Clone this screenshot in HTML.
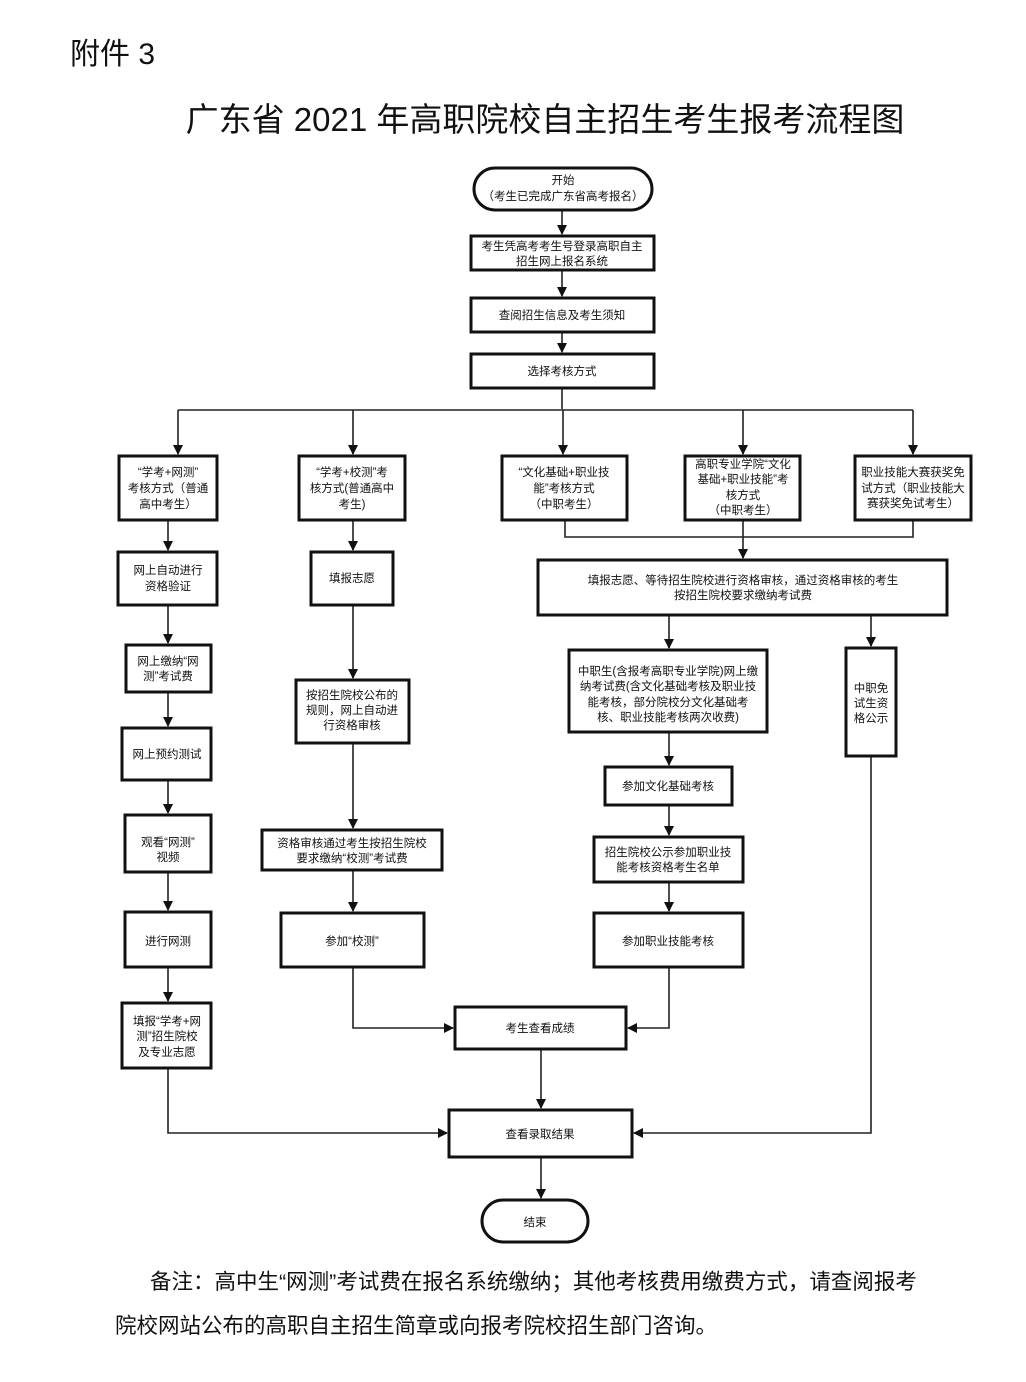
<!DOCTYPE html>
<html><head><meta charset="utf-8">
<style>
html,body{margin:0;padding:0;background:#fff;}
svg{display:block;}
text{font-family:"Liberation Sans","Noto Sans CJK SC",sans-serif;fill:#111;}
.b{fill:#fff;stroke:#111;stroke-width:3;}
.l{fill:none;stroke:#222;stroke-width:1.6;}
.t{font-size:11.5px;text-anchor:middle;}
</style></head><body>
<svg width="1026" height="1382" viewBox="0 0 1026 1382" xmlns="http://www.w3.org/2000/svg">
<defs><marker id="a" markerWidth="10" markerHeight="10" refX="9" refY="5" orient="auto" markerUnits="userSpaceOnUse"><path d="M0,0 L10,5 L0,10 z" fill="#111"/></marker></defs>
<text x="70" y="64" font-size="30">附件 3</text>
<text x="545" y="131" font-size="33" text-anchor="middle">广东省 2021 年高职院校自主招生考生报考流程图</text>

<!-- connectors -->
<g class="l">
<path d="M562 210 V234" marker-end="url(#a)"/>
<path d="M562 270 V296" marker-end="url(#a)"/>
<path d="M562 332 V352" marker-end="url(#a)"/>
<path d="M562 388 V409"/>
<path d="M178 410 H913"/>
<path d="M178 410 V454" marker-end="url(#a)"/>
<path d="M353 410 V454" marker-end="url(#a)"/>
<path d="M563 410 V454" marker-end="url(#a)"/>
<path d="M743 410 V454" marker-end="url(#a)"/>
<path d="M913 410 V454" marker-end="url(#a)"/>
<path d="M565 520 V537 H913 V520"/>
<path d="M743 520 V558" marker-end="url(#a)"/>
<path d="M669 615 V648" marker-end="url(#a)"/>
<path d="M871 615 V646" marker-end="url(#a)"/>
<path d="M669 732 V765" marker-end="url(#a)"/>
<path d="M669 805 V835" marker-end="url(#a)"/>
<path d="M669 882 V911" marker-end="url(#a)"/>
<path d="M168 520 V550" marker-end="url(#a)"/>
<path d="M168 605 V643" marker-end="url(#a)"/>
<path d="M168 692 V726" marker-end="url(#a)"/>
<path d="M168 780 V813" marker-end="url(#a)"/>
<path d="M168 872 V910" marker-end="url(#a)"/>
<path d="M168 967 V1001" marker-end="url(#a)"/>
<path d="M353 520 V550" marker-end="url(#a)"/>
<path d="M353 605 V678" marker-end="url(#a)"/>
<path d="M353 743 V828" marker-end="url(#a)"/>
<path d="M353 870 V911" marker-end="url(#a)"/>
<path d="M353 967 V1028 H453" marker-end="url(#a)"/>
<path d="M669 967 V1028 H628" marker-end="url(#a)"/>
<path d="M541 1049 V1108" marker-end="url(#a)"/>
<path d="M168 1068 V1133 H447" marker-end="url(#a)"/>
<path d="M871 756 V1133 H634" marker-end="url(#a)"/>
<path d="M541 1157 V1198" marker-end="url(#a)"/>
</g>

<!-- boxes -->
<rect class="b" x="474" y="168" width="178" height="42" rx="21"/>
<text class="t" x="563" y="184">开始</text>
<text class="t" x="563" y="200">（考生已完成广东省高考报名）</text>

<rect class="b" x="471" y="236" width="183" height="34"/>
<text class="t" x="562" y="250">考生凭高考考生号登录高职自主</text>
<text class="t" x="562" y="265">招生网上报名系统</text>

<rect class="b" x="471" y="298" width="183" height="34"/>
<text class="t" x="562" y="319">查阅招生信息及考生须知</text>

<rect class="b" x="471" y="354" width="183" height="34"/>
<text class="t" x="562" y="375">选择考核方式</text>

<rect class="b" x="119" y="456" width="98" height="64"/>
<text class="t" x="168" y="476">“学考+网测”</text>
<text class="t" x="168" y="492">考核方式（普通</text>
<text class="t" x="168" y="508">高中考生）</text>

<rect class="b" x="299" y="456" width="106" height="64"/>
<text class="t" x="352" y="476">“学考+校测”考</text>
<text class="t" x="352" y="492">核方式(普通高中</text>
<text class="t" x="352" y="508">考生)</text>

<rect class="b" x="502" y="456" width="125" height="64"/>
<text class="t" x="564" y="476">“文化基础+职业技</text>
<text class="t" x="564" y="492">能”考核方式</text>
<text class="t" x="564" y="508">（中职考生）</text>

<rect class="b" x="685" y="456" width="115" height="64"/>
<text class="t" x="743" y="468">高职专业学院“文化</text>
<text class="t" x="743" y="483">基础+职业技能”考</text>
<text class="t" x="743" y="499">核方式</text>
<text class="t" x="743" y="514">（中职考生）</text>

<rect class="b" x="855" y="456" width="116" height="64"/>
<text class="t" x="913" y="476">职业技能大赛获奖免</text>
<text class="t" x="913" y="492">试方式（职业技能大</text>
<text class="t" x="913" y="507">赛获奖免试考生）</text>

<rect class="b" x="538" y="560" width="409" height="55"/>
<text class="t" x="743" y="584">填报志愿、等待招生院校进行资格审核，通过资格审核的考生</text>
<text class="t" x="743" y="599">按招生院校要求缴纳考试费</text>

<rect class="b" x="569" y="650" width="198" height="82"/>
<text class="t" x="668" y="675">中职生(含报考高职专业学院)网上缴</text>
<text class="t" x="668" y="690">纳考试费(含文化基础考核及职业技</text>
<text class="t" x="668" y="706">能考核，部分院校分文化基础考</text>
<text class="t" x="668" y="721">核、职业技能考核两次收费)</text>

<rect class="b" x="846" y="648" width="50" height="108"/>
<text class="t" x="871" y="692">中职免</text>
<text class="t" x="871" y="707">试生资</text>
<text class="t" x="871" y="722">格公示</text>

<rect class="b" x="605" y="767" width="127" height="38"/>
<text class="t" x="668" y="790">参加文化基础考核</text>

<rect class="b" x="594" y="837" width="149" height="45"/>
<text class="t" x="668" y="856">招生院校公示参加职业技</text>
<text class="t" x="668" y="871">能考核资格考生名单</text>

<rect class="b" x="594" y="913" width="149" height="54"/>
<text class="t" x="668" y="945">参加职业技能考核</text>

<rect class="b" x="118" y="552" width="99" height="53"/>
<text class="t" x="168" y="574">网上自动进行</text>
<text class="t" x="168" y="590">资格验证</text>

<rect class="b" x="126" y="645" width="85" height="47"/>
<text class="t" x="168" y="665">网上缴纳“网</text>
<text class="t" x="168" y="680">测”考试费</text>

<rect class="b" x="122" y="728" width="89" height="52"/>
<text class="t" x="167" y="758">网上预约测试</text>

<rect class="b" x="125" y="815" width="86" height="57"/>
<text class="t" x="168" y="846">观看“网测”</text>
<text class="t" x="168" y="861">视频</text>

<rect class="b" x="125" y="912" width="86" height="55"/>
<text class="t" x="168" y="945">进行网测</text>

<rect class="b" x="122" y="1003" width="89" height="65"/>
<text class="t" x="167" y="1025">填报“学考+网</text>
<text class="t" x="167" y="1040">测”招生院校</text>
<text class="t" x="167" y="1056">及专业志愿</text>

<rect class="b" x="311" y="552" width="82" height="53"/>
<text class="t" x="352" y="582">填报志愿</text>

<rect class="b" x="296" y="680" width="113" height="63"/>
<text class="t" x="352" y="699">按招生院校公布的</text>
<text class="t" x="352" y="714">规则，网上自动进</text>
<text class="t" x="352" y="729">行资格审核</text>

<rect class="b" x="262" y="830" width="180" height="40"/>
<text class="t" x="352" y="847">资格审核通过考生按招生院校</text>
<text class="t" x="352" y="862">要求缴纳“校测”考试费</text>

<rect class="b" x="281" y="913" width="143" height="54"/>
<text class="t" x="352" y="945">参加“校测”</text>

<rect class="b" x="455" y="1007" width="171" height="42"/>
<text class="t" x="540" y="1032">考生查看成绩</text>

<rect class="b" x="449" y="1110" width="183" height="47"/>
<text class="t" x="540" y="1138">查看录取结果</text>

<rect class="b" x="482" y="1200" width="106" height="42" rx="21"/>
<text class="t" x="535" y="1226">结束</text>

<text x="150" y="1289" font-size="21.5">备注：高中生“网测”考试费在报名系统缴纳；其他考核费用缴费方式，请查阅报考</text>
<text x="115" y="1333" font-size="21.5">院校网站公布的高职自主招生简章或向报考院校招生部门咨询。</text>
</svg>
</body></html>
